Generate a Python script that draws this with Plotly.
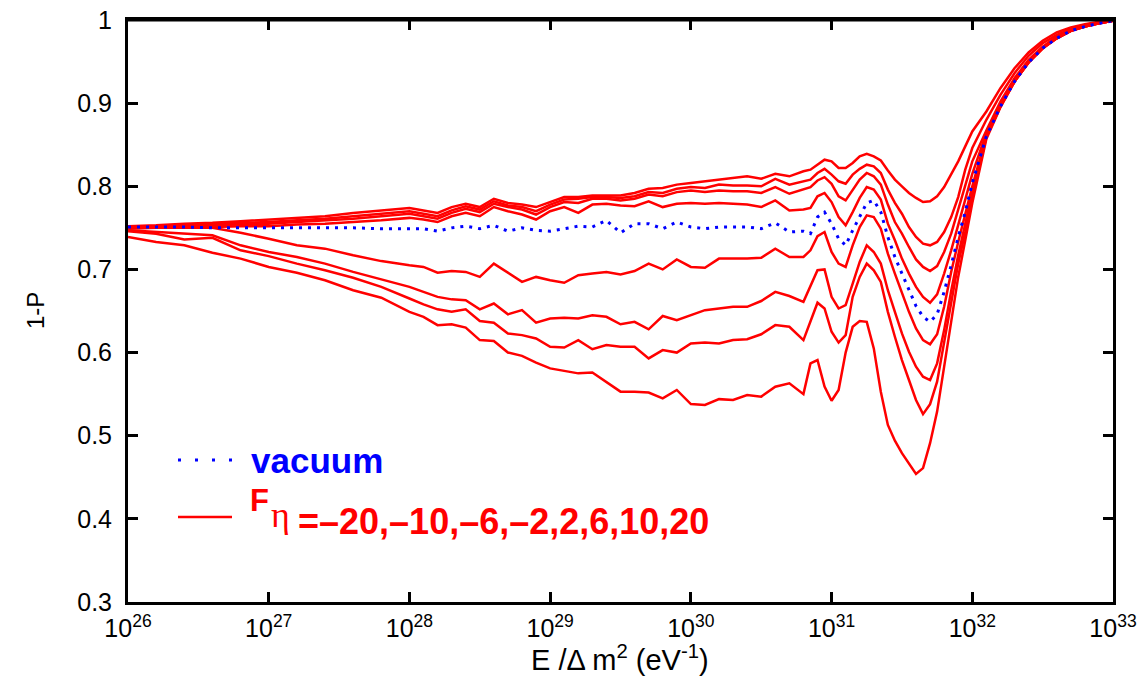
import plotly.graph_objects as go

# x positions: log10(E / dm^2)
log_e = [26.0, 26.2, 26.4, 26.6, 26.8, 27.0, 27.2, 27.4, 27.6, 27.8,
         28.0, 28.1, 28.2, 28.3, 28.4, 28.5, 28.6, 28.7, 28.8, 28.9,
         29.0, 29.1, 29.2, 29.3, 29.4, 29.5, 29.6, 29.7, 29.8, 29.9,
         30.0, 30.1, 30.2, 30.3, 30.4, 30.5, 30.6, 30.7, 30.8,
         30.85, 30.9, 30.95, 31.0, 31.05, 31.1, 31.15, 31.2, 31.25, 31.3, 31.35, 31.4,
         31.45, 31.5, 31.55, 31.6, 31.65, 31.7, 31.75, 31.8, 31.85, 31.9, 31.95, 32.0,
         32.1, 32.2, 32.3, 32.4, 32.5, 32.6, 32.7, 32.8, 32.9, 33.0]

c1 = [0.752, 0.753, 0.755, 0.756, 0.758, 0.760, 0.762, 0.764, 0.768, 0.771,
      0.774, 0.771, 0.768, 0.775, 0.779, 0.775, 0.785, 0.780, 0.778, 0.775,
      0.781, 0.787, 0.787, 0.789, 0.789, 0.789, 0.792, 0.797, 0.798, 0.802,
      0.804, 0.806, 0.808, 0.810, 0.812, 0.809, 0.815, 0.812, 0.818,
      0.820, 0.826, 0.832, 0.830, 0.822, 0.822, 0.828, 0.836, 0.839, 0.836, 0.831, 0.819,
      0.808, 0.800, 0.792, 0.786, 0.781, 0.782, 0.788, 0.799, 0.814, 0.830, 0.848, 0.866,
      0.890, 0.918, 0.942, 0.961, 0.975, 0.985, 0.991, 0.995, 0.998, 1.000]

c2 = [0.751, 0.752, 0.753, 0.754, 0.756, 0.757, 0.759, 0.761, 0.764, 0.767,
      0.770, 0.767, 0.764, 0.771, 0.776, 0.772, 0.782, 0.777, 0.775, 0.770,
      0.778, 0.784, 0.785, 0.787, 0.787, 0.786, 0.788, 0.793, 0.792, 0.797,
      0.799, 0.798, 0.802, 0.801, 0.801, 0.800, 0.809, 0.802, 0.806,
      0.808, 0.816, 0.821, 0.814, 0.806, 0.803, 0.814, 0.821, 0.826, 0.824, 0.816, 0.796,
      0.780, 0.767, 0.751, 0.739, 0.731, 0.729, 0.733, 0.745, 0.763, 0.787, 0.820, 0.846,
      0.880, 0.910, 0.936, 0.957, 0.972, 0.982, 0.989, 0.994, 0.997, 0.999]

c3 = [0.750, 0.751, 0.752, 0.753, 0.754, 0.755, 0.757, 0.759, 0.761, 0.764,
      0.767, 0.764, 0.761, 0.768, 0.773, 0.769, 0.779, 0.775, 0.772, 0.766,
      0.775, 0.781, 0.780, 0.785, 0.785, 0.783, 0.785, 0.790, 0.788, 0.793,
      0.795, 0.793, 0.795, 0.794, 0.794, 0.792, 0.799, 0.791, 0.796,
      0.799, 0.807, 0.811, 0.803, 0.788, 0.783, 0.796, 0.808, 0.816, 0.812, 0.802, 0.778,
      0.757, 0.743, 0.727, 0.712, 0.703, 0.698, 0.704, 0.721, 0.743, 0.772, 0.800, 0.830,
      0.867, 0.902, 0.930, 0.952, 0.968, 0.980, 0.988, 0.993, 0.997, 0.999]

c4 = [0.749, 0.750, 0.750, 0.751, 0.752, 0.752, 0.754, 0.755, 0.757, 0.759,
      0.762, 0.760, 0.757, 0.764, 0.768, 0.764, 0.775, 0.770, 0.766, 0.760,
      0.770, 0.775, 0.768, 0.778, 0.779, 0.777, 0.776, 0.782, 0.775, 0.779,
      0.780, 0.779, 0.780, 0.779, 0.778, 0.775, 0.783, 0.771, 0.772,
      0.774, 0.788, 0.792, 0.781, 0.763, 0.753, 0.769, 0.786, 0.799, 0.796, 0.784, 0.755,
      0.735, 0.713, 0.695, 0.679, 0.667, 0.660, 0.670, 0.695, 0.723, 0.752, 0.784, 0.815,
      0.864, 0.899, 0.928, 0.950, 0.967, 0.979, 0.987, 0.993, 0.996, 0.999]

vacuum = [0.751, 0.751, 0.751, 0.750, 0.750, 0.750, 0.750, 0.750, 0.750, 0.749,
          0.749, 0.749, 0.746, 0.750, 0.752, 0.749, 0.753, 0.746, 0.750, 0.747,
          0.746, 0.749, 0.752, 0.751, 0.759, 0.744, 0.755, 0.755, 0.749, 0.757,
          0.751, 0.749, 0.751, 0.751, 0.751, 0.749, 0.756, 0.745, 0.746,
          0.743, 0.763, 0.769, 0.755, 0.737, 0.729, 0.747, 0.763, 0.780, 0.783, 0.769, 0.739,
          0.715, 0.695, 0.675, 0.656, 0.643, 0.637, 0.646, 0.673, 0.705, 0.739, 0.769, 0.804,
          0.860, 0.896, 0.926, 0.949, 0.966, 0.978, 0.987, 0.992, 0.996, 0.999]

c5 = [0.750, 0.750, 0.750, 0.750, 0.744, 0.737, 0.729, 0.725, 0.717, 0.710,
      0.705, 0.703, 0.696, 0.698, 0.697, 0.691, 0.707, 0.696, 0.685, 0.691,
      0.687, 0.684, 0.693, 0.695, 0.697, 0.694, 0.698, 0.707, 0.700, 0.712,
      0.703, 0.702, 0.713, 0.713, 0.713, 0.714, 0.725, 0.715, 0.715,
      0.723, 0.740, 0.745, 0.721, 0.707, 0.703, 0.729, 0.751, 0.765, 0.763, 0.749, 0.719,
      0.695, 0.671, 0.649, 0.629, 0.615, 0.610, 0.622, 0.655, 0.697, 0.733, 0.767, 0.800,
      0.861, 0.897, 0.926, 0.949, 0.966, 0.978, 0.987, 0.992, 0.996, 0.999]

c6 = [0.747, 0.745, 0.743, 0.741, 0.729, 0.721, 0.715, 0.707, 0.697, 0.688,
      0.679, 0.673, 0.667, 0.664, 0.663, 0.652, 0.659, 0.646, 0.651, 0.636,
      0.641, 0.642, 0.641, 0.645, 0.643, 0.634, 0.637, 0.628, 0.644, 0.639,
      0.645, 0.651, 0.653, 0.655, 0.655, 0.662, 0.673, 0.668, 0.661,
      0.680, 0.699, 0.700, 0.667, 0.653, 0.657, 0.683, 0.709, 0.729, 0.721, 0.707, 0.675,
      0.649, 0.623, 0.601, 0.583, 0.571, 0.567, 0.587, 0.627, 0.674, 0.717, 0.755, 0.793,
      0.860, 0.896, 0.926, 0.949, 0.966, 0.978, 0.987, 0.992, 0.996, 0.999]

c7 = [0.746, 0.743, 0.736, 0.738, 0.723, 0.716, 0.707, 0.699, 0.690, 0.679,
      0.665, 0.658, 0.652, 0.649, 0.652, 0.638, 0.636, 0.623, 0.621, 0.617,
      0.607, 0.606, 0.615, 0.604, 0.609, 0.607, 0.607, 0.593, 0.603, 0.600,
      0.611, 0.612, 0.611, 0.615, 0.616, 0.622, 0.633, 0.631, 0.615,
      0.637, 0.660, 0.653, 0.625, 0.612, 0.621, 0.667, 0.691, 0.707, 0.699, 0.685, 0.649,
      0.619, 0.591, 0.567, 0.543, 0.526, 0.538, 0.565, 0.611, 0.659, 0.707, 0.745, 0.788,
      0.859, 0.896, 0.926, 0.949, 0.966, 0.978, 0.987, 0.992, 0.996, 0.999]

c8 = [0.739, 0.733, 0.729, 0.720, 0.713, 0.703, 0.696, 0.687, 0.675, 0.666,
      0.649, 0.643, 0.633, 0.634, 0.630, 0.615, 0.614, 0.600, 0.596, 0.588,
      0.581, 0.578, 0.575, 0.576, 0.565, 0.553, 0.553, 0.552, 0.545, 0.555,
      0.538, 0.537, 0.544, 0.543, 0.549, 0.547, 0.559, 0.563, 0.550,
      0.587, 0.591, 0.559, 0.542, 0.555, 0.600, 0.631, 0.638, 0.637, 0.605, 0.553, 0.513,
      0.494, 0.479, 0.467, 0.454, 0.461, 0.491, 0.529, 0.583, 0.639, 0.691, 0.735, 0.780,
      0.857, 0.895, 0.926, 0.949, 0.966, 0.978, 0.987, 0.992, 0.996, 0.999]

red_curves = [c1, c2, c3, c4, c5, c6, c7, c8]

x_tick_exps = [26, 27, 28, 29, 30, 31, 32, 33]
y_ticks = [0.3, 0.4, 0.5, 0.6, 0.7, 0.8, 0.9, 1.0]
y_tick_text = ["0.3", "0.4", "0.5", "0.6", "0.7", "0.8", "0.9", "1"]

x_vals = [10.0 ** v for v in log_e]

RED = "#ff0000"
BLUE = "#0000ff"
FONT = "Liberation Sans, Arial, sans-serif"

fig = go.Figure()
for curve in red_curves:
    fig.add_trace(go.Scatter(x=x_vals, y=curve, mode="lines",
                             line=dict(color=RED, width=2.5),
                             hoverinfo="skip"))
fig.add_trace(go.Scatter(x=x_vals, y=vacuum, mode="lines",
                         line=dict(color=BLUE, width=3, dash="3px,6px"),
                         hoverinfo="skip"))

axis_common = dict(showline=True, linewidth=3, linecolor="black", mirror="allticks",
                   ticks="inside", ticklen=10, tickwidth=3, tickcolor="black",
                   showgrid=False, zeroline=False, automargin=False,
                   ticklabeloverflow="allow",
                   tickfont=dict(family=FONT, size=25, color="black"))

fig.update_xaxes(type="log", range=[26, 33],
                 tickvals=[10.0 ** k for k in x_tick_exps],
                 ticktext=["10<sup>%d</sup>" % k for k in x_tick_exps],
                 ticklabelstandoff=2,
                 **axis_common)
fig.update_yaxes(range=[0.3, 1.0], tickvals=y_ticks, ticktext=y_tick_text,
                 ticklabelstandoff=8, **axis_common)

# plot area at page px x 128..1113, y 20..602 (page body margin removed below)
W, H = 1144, 679
ML, MR, MT, MB = 128, 1144 - 1113, 20, 679 - 602


def px(xp):
    return (xp - 128) / 985.0


def py(yp):
    return (602 - yp) / 582.0


shapes = [
    dict(type="line", xref="paper", yref="paper", x0=px(178), x1=px(232), y0=py(460), y1=py(460),
         line=dict(color=BLUE, width=3, dash="3px,14px")),
    dict(type="line", xref="paper", yref="paper", x0=px(178), x1=px(232), y0=py(517), y1=py(517),
         line=dict(color=RED, width=2.5)),
    dict(type="line", xref="paper", yref="paper", x0=0, x1=1, y0=1, y1=1,
         line=dict(color="black", width=3), layer="above"),
]

annotations = [
    dict(text="<b>vacuum</b>", xref="paper", yref="paper", x=px(249), y=py(460),
         xanchor="left", yanchor="middle", showarrow=False,
         font=dict(family=FONT, size=35, color=BLUE)),
    dict(text="<b>F</b>", xref="paper", yref="paper", x=px(248), y=py(500),
         xanchor="left", yanchor="middle", showarrow=False,
         font=dict(family=FONT, size=31, color=RED)),
    dict(text="η", xref="paper", yref="paper", x=px(269), y=py(515),
         xanchor="left", yanchor="middle", showarrow=False,
         font=dict(family="Liberation Serif, serif", size=36, color=RED)),
    dict(text="<b>=–20,–10,–6,–2,2,6,10,20</b>", xref="paper", yref="paper", x=px(296), y=py(521),
         xanchor="left", yanchor="middle", showarrow=False,
         font=dict(family=FONT, size=36, color=RED)),
    dict(text="1-P", xref="paper", yref="paper", x=px(35), y=py(311),
         xanchor="center", yanchor="middle", showarrow=False, textangle=-90,
         font=dict(family=FONT, size=24, color="black")),
    dict(text="E /Δ m<sup>2</sup> (eV<sup>-1</sup>)", xref="paper", yref="paper",
         x=px(620), y=py(658), xanchor="center", yanchor="middle", showarrow=False,
         font=dict(family=FONT, size=29, color="black")),
]

fig.update_layout(width=W, height=H,
                  margin=dict(l=ML, r=MR, t=MT, b=MB, pad=0),
                  paper_bgcolor="white", plot_bgcolor="white",
                  showlegend=False, shapes=shapes, annotations=annotations)

fig.write_html("out.html",
               config={"displayModeBar": False, "staticPlot": True},
               post_script="document.body.style.margin='0px';"
                           "document.body.style.overflow='hidden';")
